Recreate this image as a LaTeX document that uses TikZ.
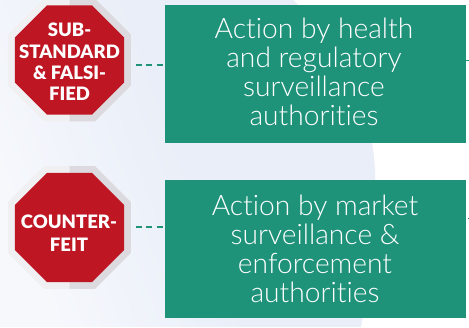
\documentclass[tikz,border=0pt]{standalone}
\usepackage{fontspec}
\setmainfont{Lato}[UprightFont=* Light,BoldFont=* Black,Ligatures=NoCommon,Contextuals=NoAlternate]
\usetikzlibrary{shapes.geometric}
\definecolor{teal1}{HTML}{1F927A}
\definecolor{stopred}{HTML}{BE1622}
\definecolor{bgblue}{HTML}{E9EEF8}
\definecolor{bgpale}{HTML}{F6F8FC}
\definecolor{halolight}{HTML}{F0F0F2}
\definecolor{halodark}{HTML}{DCDADE}
\tikzset{
  actionbox/.style={fill=teal1,minimum width=301pt,minimum height=138pt,inner sep=0pt,anchor=north west},
  boxtext/.style={text=white,font=\fontsize{28.2}{29}\selectfont,align=center,inner sep=0pt},
  stopsign/.style={regular polygon,regular polygon sides=8,fill=stopred,minimum size=118pt,inner sep=0pt},
  signtext/.style={text=white,font=\bfseries\fontsize{18.5}{21.4}\selectfont,align=center,inner sep=0pt},
  signtextwide/.style={text=white,font=\bfseries\fontsize{18.5}{23}\selectfont,align=center,inner sep=0pt},
  halo/.style={regular polygon,regular polygon sides=8,minimum size=133pt,inner sep=0pt},
  link/.style={teal1,line width=2pt,dash pattern=on 6pt off 4.5pt},
  tick/.style={teal1,line width=1pt},
}
\begin{document}
\begin{tikzpicture}[x=1pt,y=-1pt]
\useasboundingbox (0,0) rectangle (469,327);
\fill[white] (0,0) rectangle (469,327);
\begin{scope}
\clip (0,0) rectangle (469,327);
\shade[left color=bgpale,right color=bgblue,middle color=bgblue,shading angle=110]
  (0,0) -- (293,0) .. controls (345,50) and (372,110) .. (375,170) .. controls (376,220) and (370,280) .. (361,327) -- (0,327) -- cycle;
\end{scope}
% sign 1
\node[halo,fill=halolight] (h1) at (69.5,60) {};
\begin{scope}
\clip (69.5,-10) rectangle (140,130);
\node[halo,fill=halodark] (h1b) at (69.5,60) {};
\end{scope}
\node[stopsign] (s1) at (69.5,60) {};
\node[signtext] (t1) at (69.5,62) {SUB-\\STANDARD\\\&~FALSI-\\FIED};
% sign 2
\node[halo,fill=halolight] (h2) at (69.5,227.5) {};
\begin{scope}
\clip (69.5,160) rectangle (140,300);
\node[halo,fill=halodark] (h2b) at (69.5,227.5) {};
\end{scope}
\node[stopsign] (s2) at (69.5,227.5) {};
\node[signtextwide] (t2) at (69,233.5) {COUNTER-\\FEIT};
% boxes
\node[actionbox] (b1) at (165,5) {};
\node[boxtext] (x1) at (314,71.5) {Act\kern0pt ion by health\\and regulatory\\surveillance\\authorit\kern0pt ies};
\node[actionbox] (b2) at (165,180) {};
\node[boxtext] (x2) at (315,249) {Act\kern0pt ion by market\\surveillance \&\\enforcement\\authorit\kern0pt ies};
% connectors
\coordinate (c1) at (135.7,65);
\coordinate (c2) at (135.7,227.3);
\draw[link] (c1) -- (c1 -| b1.west);
\draw[link] (c2) -- (c2 -| b2.west);
\coordinate (e1) at (469,60);
\coordinate (e2) at (469,218);
\draw[tick] (e1 -| b1.east) -- (e1);
\draw[tick] (e2 -| b2.east) ++(2,0) -- (e2);
\end{tikzpicture}
\end{document}
